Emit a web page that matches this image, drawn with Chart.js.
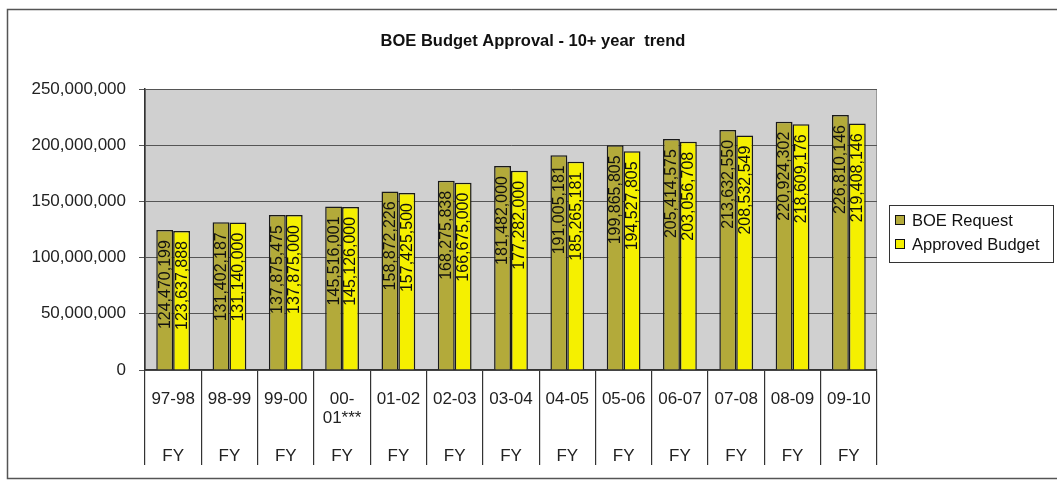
<!DOCTYPE html>
<html>
<head>
<meta charset="utf-8">
<script src="https://cdn.jsdelivr.net/npm/chart.js@4"></script>
<style>
  html, body { margin: 0; padding: 0; background: #fff; }
  #wrap { position: relative; width: 1057px; height: 484px; }
</style>
</head>
<body>
<div id="wrap"><canvas id="chart" width="1057" height="484"></canvas></div>
<script>
// ---- data ----
const years = ['97-98', '98-99', '99-00', '00-01***', '01-02', '02-03', '03-04',
               '04-05', '05-06', '06-07', '07-08', '08-09', '09-10'];
const boeRequest = [124470199, 131402187, 137875475, 145516001, 158872226, 168275838, 181482000,
                    191005181, 199865805, 205414575, 213632550, 220924302, 226810146];
const approved = [123637888, 131140000, 137875000, 145126000, 157425500, 166675000, 177282000,
                  185265181, 194527805, 203056708, 208532549, 218609176, 219408146];
const yTicks = [0, 50000000, 100000000, 150000000, 200000000, 250000000];
const chartTitle = 'BOE Budget Approval - 10+ year  trend';

const FONT = "'Liberation Sans', Arial, sans-serif";
const fmt = v => v.toLocaleString('en-US');

// two-level category labels: year on top, "FY" below
const labels = years.map(y => {
    if (y.indexOf('***') > 0) return ['00-', '01***', '', 'FY'];
    return [y, '', '', 'FY'];
});

// gray plot wall, outer frame and title
const backdrop = {
    id: 'backdrop',
    beforeDraw(chart) {
        const { ctx, chartArea: a } = chart;
        ctx.save();
        ctx.fillStyle = '#fff';
        ctx.fillRect(0, 0, chart.width, chart.height);
        ctx.fillStyle = '#d0d0d0';
        ctx.fillRect(a.left, a.top, a.right - a.left, a.bottom - a.top);
        ctx.strokeStyle = '#999';
        ctx.lineWidth = 1;
        ctx.strokeRect(a.left + 0.5, a.top + 0.5, a.right - a.left - 1, a.bottom - a.top);
        ctx.strokeStyle = '#555';
        ctx.lineWidth = 1.5;
        ctx.strokeRect(7.5, 9.5, chart.width + 10, 469);
        ctx.fillStyle = '#111';
        ctx.font = 'bold 16.5px ' + FONT;
        ctx.textAlign = 'center';
        ctx.textBaseline = 'middle';
        ctx.fillText(chartTitle, 533, 41);
        ctx.restore();
    }
};

// vertical value labels inside the top of each bar
const barLabels = {
    id: 'barLabels',
    afterDatasetsDraw(chart) {
        const { ctx } = chart;
        ctx.save();
        ctx.font = '16px ' + FONT;
        ctx.fillStyle = '#111';
        ctx.textAlign = 'right';
        ctx.textBaseline = 'middle';
        chart.data.datasets.forEach((ds, di) => {
            chart.getDatasetMeta(di).data.forEach((bar, i) => {
                ctx.save();
                ctx.translate(bar.x + 0.5, bar.y + 10);
                ctx.rotate(-Math.PI / 2);
                ctx.fillText(fmt(ds.data[i]), 0, 0);
                ctx.restore();
            });
        });
        ctx.restore();
    }
};

// boxed legend to the right of the plot
const boxLegend = {
    id: 'boxLegend',
    afterDraw(chart) {
        const { ctx, chartArea: a } = chart;
        const left = a.right + 12, top = 205;
        ctx.save();
        ctx.strokeStyle = '#333';
        ctx.lineWidth = 1;
        ctx.strokeRect(left + 0.5, top + 0.5, 164, 57);
        ctx.font = '16.5px ' + FONT;
        ctx.textBaseline = 'middle';
        chart.data.datasets.forEach((ds, i) => {
            const cy = top + 15 + i * 24;
            ctx.fillStyle = ds.backgroundColor;
            ctx.fillRect(left + 6, cy - 5, 10, 10);
            ctx.strokeStyle = '#111';
            ctx.strokeRect(left + 6.5, cy - 4.5, 9, 9);
            ctx.fillStyle = '#111';
            ctx.fillText(ds.label, left + 23, cy + 1);
        });
        ctx.restore();
    }
};

new Chart(document.getElementById('chart'), {
    type: 'bar',
    data: {
        labels,
        datasets: [
            {
                label: 'BOE Request',
                data: boeRequest,
                backgroundColor: '#b3aa3a',
                borderColor: '#1a1a1a',
                borderWidth: 1.5,
                categoryPercentage: 0.6,
                barPercentage: 1.0
            },
            {
                label: 'Approved Budget',
                data: approved,
                backgroundColor: '#f5f000',
                borderColor: '#1a1a1a',
                borderWidth: 1.5,
                categoryPercentage: 0.6,
                barPercentage: 1.0
            }
        ]
    },
    options: {
        responsive: false,
        animation: false,
        layout: { padding: { left: 20, right: 180, top: 89, bottom: 19 } },
        plugins: {
            legend: { display: false },
            tooltip: { enabled: false },
            title: { display: false }
        },
        scales: {
            x: {
                grid: {
                    drawOnChartArea: false,
                    drawTicks: true,
                    tickLength: 95,
                    color: '#333',
                    lineWidth: 1.2
                },
                border: { display: true, color: '#333', width: 1.5 },
                ticks: {
                    autoSkip: false,
                    maxRotation: 0,
                    minRotation: 0,
                    padding: -75,
                    color: '#222',
                    font: { family: FONT, size: 17, lineHeight: 1.12 }
                },
                afterFit(s) { s.height = 95; }
            },
            y: {
                min: 0,
                max: 250000000,
                afterBuildTicks(s) { s.ticks = yTicks.map(v => ({ value: v })); },
                grid: { color: '#555', lineWidth: 1, tickLength: 6 },
                border: { display: true, color: '#333', width: 1.5 },
                ticks: {
                    padding: 13,
                    color: '#222',
                    font: { family: FONT, size: 17 },
                    callback: v => fmt(v)
                },
                afterFit(s) { s.width = 125; }
            }
        }
    },
    plugins: [backdrop, barLabels, boxLegend]
});
</script>
</body>
</html>
